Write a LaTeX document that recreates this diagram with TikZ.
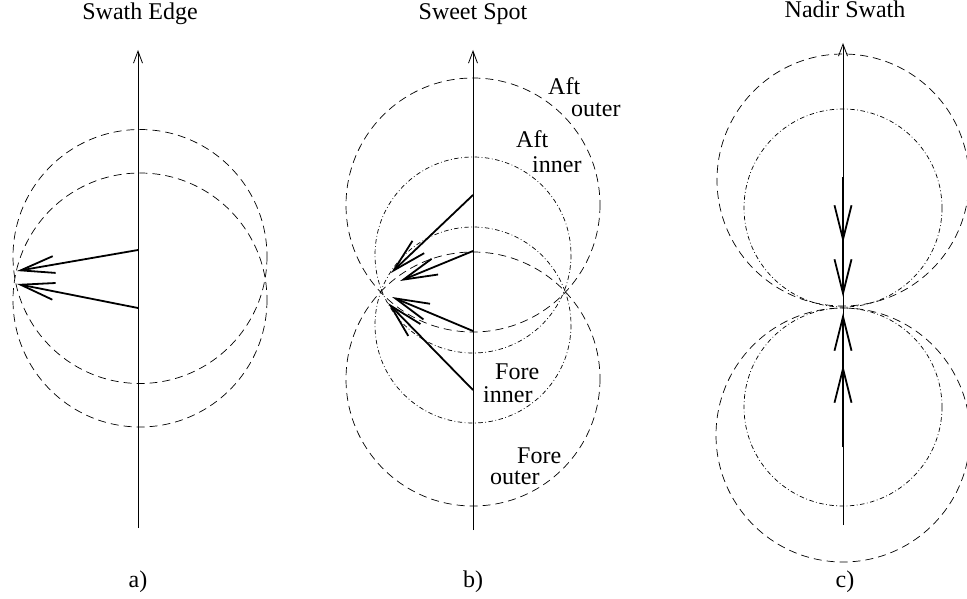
\documentclass[tikz,border=0pt]{standalone}
\usepackage{fontspec}
\setmainfont{Liberation Serif}
\usetikzlibrary{arrows.meta}
\begin{document}
\begin{tikzpicture}[x=1pt,y=-1pt,
  axisline/.style={line width=0.8pt,-{Straight Barb[length=12pt,width=9pt]}},
  outerc/.style={line width=0.7pt,dash pattern=on 8pt off 5pt},
  innerc/.style={line width=0.7pt,dash pattern=on 4.5pt off 2.5pt on 0.8pt off 2.5pt},
  vec/.style={line width=1.8pt,-{Straight Barb[length=34pt,width=17pt]}},
  lbl/.style={anchor=base west,inner sep=0pt,font=\fontsize{24}{26}\selectfont},
  ttl/.style={anchor=base,inner sep=0pt,font=\fontsize{24}{26}\selectfont}]
\useasboundingbox (0,0) rectangle (967,599);

% ---------- panel a ----------
\node[ttl] (ta) at (140,20) {Swath Edge};
\node[ttl] (la) at (138,587) {a)};
\coordinate (a0) at (138,528);
\coordinate (a1) at (138,50);
\draw[axisline] (a0) -- (a1);
\draw[outerc] (140,256.5) circle[radius=127];
\draw[outerc] (140,300) circle[radius=127];
\coordinate (as1) at (138,250);
\coordinate (ae1) at (17,271);
\coordinate (as2) at (138,308);
\coordinate (ae2) at (17,284);
\draw[vec] (as1) -- (ae1);
\draw[vec] (as2) -- (ae2);

% ---------- panel b ----------
\node[ttl] (tb) at (473,20) {Sweet Spot};
\node[ttl] (lb) at (473,587) {b)};
\coordinate (b0) at (473,530);
\coordinate (b1) at (473,50);
\draw[axisline] (b0) -- (b1);
\draw[outerc] (473,205) circle[radius=127];
\draw[innerc] (473,255) circle[radius=98];
\draw[innerc] (473,325) circle[radius=98];
\draw[outerc] (473,379) circle[radius=127];
\coordinate (bs1) at (473,195);
\coordinate (be1) at (391,273);
\coordinate (bs2) at (473,251);
\coordinate (be2) at (400,281);
\coordinate (bs3) at (473,331);
\coordinate (be3) at (392,297);
\coordinate (bs4) at (473,390);
\coordinate (be4) at (388,303);
\draw[vec] (bs1) -- (be1);
\draw[vec] (bs2) -- (be2);
\draw[vec] (bs3) -- (be3);
\draw[vec] (bs4) -- (be4);
\node[lbl] (aftA) at (548,95) {Aft};
\node[lbl] (aftB) at (571,117) {outer};
\node[lbl] (aftC) at (516,148) {Aft};
\node[lbl] (aftD) at (532,172) {inner};
\node[lbl] (foreA) at (495,379) {Fore};
\node[lbl] (foreB) at (483,402) {inner};
\node[lbl] (foreC) at (517,463) {Fore};
\node[lbl] (foreD) at (490,484) {outer};

% ---------- panel c ----------
\node[ttl] (tc) at (845,18) {Nadir Swath};
\node[ttl] (lc) at (845,587) {c)};
\coordinate (c0) at (843,525);
\coordinate (c1) at (843,43);
\draw[axisline] (c0) -- (c1);
\draw[outerc] (843,180) circle[radius=126];
\draw[innerc] (843,208) circle[radius=99];
\draw[innerc] (843,407) circle[radius=99];
\draw[outerc] (843,435) circle[radius=127];
\coordinate (cs1) at (843,177);
\coordinate (ce1) at (843,297);
\coordinate (ce2) at (843,243);
\coordinate (cs3) at (843,447);
\coordinate (ce3) at (843,313);
\coordinate (ce4) at (843,365);
\draw[vec] (cs1) -- (ce1);
\draw[vec] (cs1) -- (ce2);
\draw[vec] (cs3) -- (ce3);
\draw[vec] (cs3) -- (ce4);
\end{tikzpicture}
\end{document}
